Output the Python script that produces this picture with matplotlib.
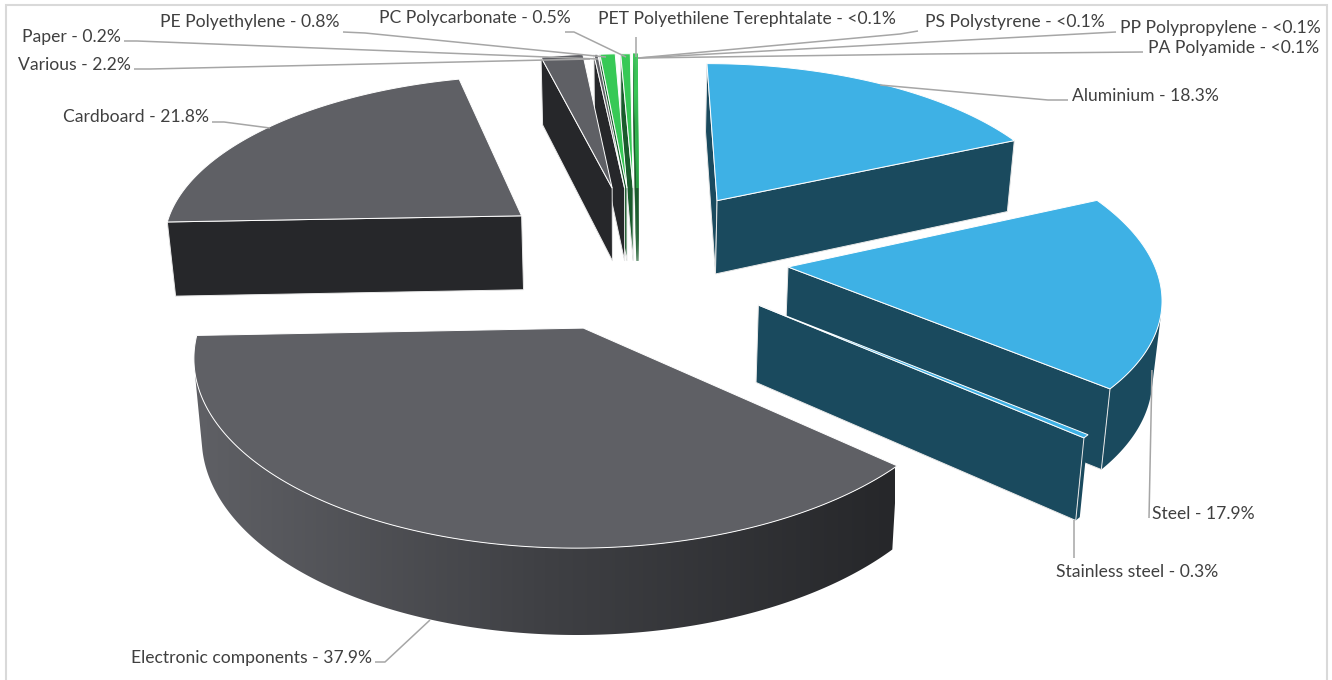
import numpy as np
import matplotlib
matplotlib.use("Agg")
import matplotlib.pyplot as plt
from matplotlib.patches import Polygon, Rectangle
from matplotlib.colors import LinearSegmentedColormap

names = ["Aluminium", "Steel", "Stainless steel", "Electronic components", "Cardboard",
         "Various", "Paper", "PE Polyethylene", "PC Polycarbonate",
         "PET Polyethilene Terephtalate", "PS Polystyrene", "PP Polypropylene", "PA Polyamide"]
values = [18.3, 17.9, 0.3, 37.9, 21.8, 2.2, 0.2, 0.8, 0.5, 0.03, 0.03, 0.03, 0.03]
value_text = ["18.3%", "17.9%", "0.3%", "37.9%", "21.8%", "2.2%", "0.2%", "0.8%", "0.5%",
              "<0.1%", "<0.1%", "<0.1%", "<0.1%"]

# explosion of each slice in the pie plane (u right, v away from the viewer)
shift_u = [0.256, 0.436, 0.345, -0.116, -0.302, -0.046, -0.01, -0.003, 0.015, 0.025, 0.027, 0.029, 0.031]
shift_v = [0.407, 0.0, -0.215, -0.339, 0.31, 0.489, 0.489, 0.489, 0.489, 0.489, 0.489, 0.489, 0.489]

GREY, GREY_D = "#5f6065", "#26272a"
BLUE, BLUE_D = "#3eb1e5", "#1a4a5e"
GREEN, GREEN_D = "#37c956", "#1a5c2c"
top_col = [BLUE, BLUE, BLUE, GREY, GREY, GREY, GREY, GREEN, GREEN, GREEN, GREEN, GREEN, GREEN]
side_col = [BLUE_D, BLUE_D, BLUE_D, GREY_D, GREY_D, GREY_D, GREY_D, GREEN_D, GREEN_D,
            GREEN_D, GREEN_D, GREEN_D, GREEN_D]
draw_order = [12, 11, 10, 9, 8, 7, 6, 5, 0, 4, 1, 2, 3]

# text anchor x, y, horizontal alignment and leader line in pixels
label_pos = [(1072, 96, "left"), (1152, 514, "left"), (1056, 572, "left"), (372, 658, "right"),
             (209, 117, "right"), (131, 65, "right"), (121, 37, "right"), (340, 22, "right"),
             (571, 18, "right"), (598, 19, "left"), (925, 22, "left"), (1120, 28, "left"),
             (1148, 48, "left")]
leaders = [[(1068, 100), (1048, 100), (880, 85)],
           [(1149, 518), (1152, 370)],
           [(1074, 558), (1074, 520)],
           [(375, 662), (385, 662), (430, 620)],
           [(212, 122), (224, 122), (270, 128)],
           [(134, 69), (150, 69), (590, 59)],
           [(124, 41), (137, 41), (598, 59)],
           [(343, 32), (365, 33), (606, 57)],
           [(565, 32), (574, 32), (626, 57)],
           [(636, 37), (636, 57)],
           [(918, 31), (900, 34), (638, 58)],
           [(1116, 32), (930, 42), (638, 58)],
           [(1143, 52), (930, 54), (638, 58)]]

X0, Y0, A, B, K = 628, 267, 367, 172, 0.135


def project(u, v):
    w = 1 + K * v
    return X0 + A * u / w, Y0 - B * v / w


def drop(x, y):
    # lower rim of the pie, same point seen on the underside
    return X0 + 0.982 * (x - X0), y + 65.5 + 0.039 * y


def faces_viewer(pu, pv, nu, nv):
    return (0 - pu) * nu + (-1 / K - pv) * nv > 0


def draw_slice(ax, i, a0, a1):
    n = max(2, int(np.degrees(a1 - a0)) * 2 + 1)
    ang = np.linspace(a0, a1, n)
    u = shift_u[i] + np.sin(ang)
    v = shift_v[i] + np.cos(ang)
    px, py = project(u, v)
    cx, cy = project(shift_u[i], shift_v[i])
    tiny = values[i] < 0.1

    # only the part of the outer wall that turns towards the viewer
    bx, by = drop(px, py)
    cross = np.diff(px) * (by[:-1] - py[:-1]) - np.diff(py) * (bx[:-1] - px[:-1])
    seen = np.nonzero(cross < 0)[0]
    if len(seen):
        s0, s1 = seen[0], seen[-1] + 2
        wall = list(zip(px[s0:s1], py[s0:s1])) + list(zip(bx[s0:s1][::-1], by[s0:s1][::-1]))
        if i == 3:
            # the long outer wall fades from left to right
            cmap = LinearSegmentedColormap.from_list("wall", [GREY, "#3f4044", GREY_D])
            grad = np.linspace(0, 1, 256).reshape(1, -1)
            patch = Polygon(wall, closed=True, fc="none", ec="none")
            ax.add_patch(patch)
            im = ax.imshow(grad, cmap=cmap, extent=(195, 895, 700, 300), aspect="auto", zorder=1)
            im.set_clip_path(patch)
        else:
            ax.add_patch(Polygon(wall, closed=True, fc=side_col[i], ec="none", zorder=1))

    cuts = [(0, -np.cos(a0), np.sin(a0)), (-1, np.cos(a1), -np.sin(a1))]
    for j, nu, nv in cuts:
        if not faces_viewer(shift_u[i], shift_v[i], nu, nv):
            continue
        quad = [(cx, cy), (px[j], py[j]), drop(px[j], py[j]), drop(cx, cy)]
        ax.add_patch(Polygon(quad, closed=True, fc=side_col[i], zorder=1,
                             ec=side_col[i] if tiny else "#e8e8e8", lw=0.3 if tiny else 0.7))

    top = [(cx, cy)] + list(zip(px, py))
    ax.add_patch(Polygon(top, closed=True, fc=top_col[i], zorder=1,
                         ec=top_col[i] if tiny else "white", lw=0.4 if tiny else 0.7))


def main():
    plt.rcParams['font.family'] = ['Lato', 'DejaVu Sans']
    fig = plt.figure(figsize=(13.32, 6.8), dpi=100)
    ax = fig.add_axes([0, 0, 1, 1])

    ax.add_patch(Rectangle((6, 5), 1321, 690, fc="white", ec="#d9d9d9", lw=1.5, zorder=0))

    edges = np.cumsum([0] + values) / sum(values) * 2 * np.pi
    for i in draw_order:
        draw_slice(ax, i, edges[i], edges[i + 1])

    for line in leaders:
        xs, ys = zip(*line)
        ax.plot(xs, ys, color="#a6a6a6", lw=1.1, solid_capstyle="butt", zorder=2)
    for name, val, (x, y, ha) in zip(names, value_text, label_pos):
        ax.text(x, y, f"{name} - {val}", ha=ha, va="center", fontsize=12.6, color="#404040")

    ax.set_xlim(0, 1332)
    ax.set_ylim(680, 0)
    ax.axis("off")
    fig.savefig("out.png", dpi=100)


if __name__ == '__main__':
    main()
